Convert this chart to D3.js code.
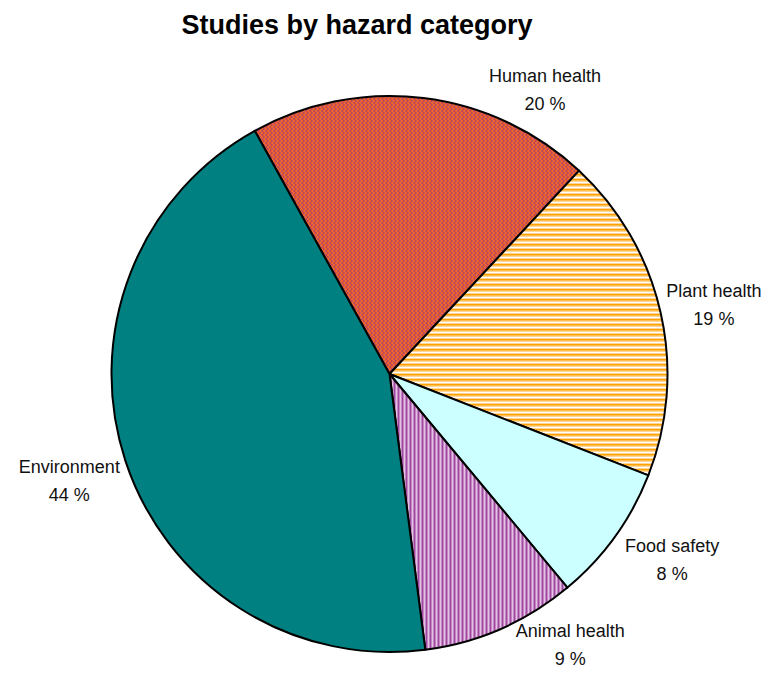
<!DOCTYPE html>
<html>
<head>
<meta charset="utf-8">
<script src="https://cdn.jsdelivr.net/npm/d3@7"></script>
<style>
  html, body { margin: 0; padding: 0; background: #fff; }
  svg { display: block; }
</style>
</head>
<body>
<svg id="chart" width="769" height="678"></svg>
<script>
// Hazard categories and their share of studies (%)
const categories = ["Human health", "Plant health", "Food safety", "Animal health", "Environment"];
const shares = [20, 19, 8, 9, 44];
const fills = ["url(#checkRed)", "url(#stripeOrange)", "#ccffff", "url(#stripePurple)", "#008080"];

const width = 769, height = 678;
const cx = 389.5, cy = 374, radius = 278;

const svg = d3.select("#chart");
const defs = svg.append("defs");

// Fine red / purple check
const check = defs.append("pattern").attr("id", "checkRed")
  .attr("patternUnits", "userSpaceOnUse").attr("width", 4).attr("height", 4);
check.append("rect").attr("width", 4).attr("height", 4).attr("fill", "#f26a2a");
check.append("rect").attr("x", 0).attr("y", 0).attr("width", 1).attr("height", 2).attr("fill", "#9a3a8a");
check.append("rect").attr("x", 2).attr("y", 2).attr("width", 1).attr("height", 2).attr("fill", "#9a3a8a");
check.append("rect").attr("x", 1).attr("y", 0).attr("width", 1).attr("height", 4).attr("fill", "#e0502a");

// Horizontal orange stripes
const hs = defs.append("pattern").attr("id", "stripeOrange")
  .attr("patternUnits", "userSpaceOnUse").attr("width", 8).attr("height", 5);
hs.append("rect").attr("width", 8).attr("height", 5).attr("fill", "#ffd699");
hs.append("rect").attr("y", 0).attr("width", 8).attr("height", 1).attr("fill", "#ffa200");
hs.append("rect").attr("y", 1).attr("width", 8).attr("height", 1).attr("fill", "#ffbe4d");
hs.append("rect").attr("y", 3).attr("width", 8).attr("height", 1).attr("fill", "#ffffff");

// Vertical purple stripes
const vs = defs.append("pattern").attr("id", "stripePurple")
  .attr("patternUnits", "userSpaceOnUse").attr("width", 4).attr("height", 8);
vs.append("rect").attr("width", 4).attr("height", 8).attr("fill", "#d9a8d9");
vs.append("rect").attr("x", 0).attr("width", 1).attr("height", 8).attr("fill", "#8e2f8e");
vs.append("rect").attr("x", 1).attr("width", 1).attr("height", 8).attr("fill", "#b060b0");
vs.append("rect").attr("x", 3).attr("width", 1).attr("height", 8).attr("fill", "#f0dcf0");

const data = categories.map((c, i) => ({ category: c, value: shares[i], fill: fills[i] }));

const startAngle = -29 * Math.PI / 180;
const pie = d3.pie().sort(null).value(d => d.value)
  .startAngle(startAngle).endAngle(startAngle + 2 * Math.PI);
const arcs = pie(data);

const arc = d3.arc().innerRadius(0).outerRadius(radius);

const g = svg.append("g").attr("transform", `translate(${cx},${cy})`);

g.selectAll("path.slice")
  .data(arcs)
  .join("path")
  .attr("class", "slice")
  .attr("d", arc)
  .attr("fill", d => d.data.fill)
  .attr("stroke", "#000")
  .attr("stroke-width", 2)
  .attr("stroke-linejoin", "round");

// Labels sit outside the rim along each slice's mid angle
const labelNudge = {
  "Human health": { da: 21.5, r: 326 },
  "Plant health": { da: 0.5, r: 332 },
  "Food safety": { da: -2.8, r: 337 },
  "Animal health": { da: -10.3, r: 324 },
  "Environment": { da: 0, r: 337 }
};

const labels = g.selectAll("g.label")
  .data(arcs)
  .join("g")
  .attr("class", "label")
  .attr("transform", d => {
    const n = labelNudge[d.data.category];
    const a = (d.startAngle + d.endAngle) / 2 + n.da * Math.PI / 180;
    return `translate(${Math.sin(a) * n.r},${-Math.cos(a) * n.r})`;
  })
  .style("font-family", "'Liberation Sans', Arial, sans-serif")
  .style("font-size", "18px")
  .attr("fill", "#111")
  .attr("text-anchor", "middle");

labels.append("text").attr("y", -6).text(d => d.data.category);
labels.append("text").attr("y", 22).text(d => `${d.data.value} %`);

svg.append("text")
  .attr("x", 357).attr("y", 34)
  .attr("text-anchor", "middle")
  .style("font-family", "'Liberation Sans', Arial, sans-serif")
  .style("font-weight", "bold")
  .style("font-size", "27px")
  .attr("fill", "#000")
  .text("Studies by hazard category");
</script>
</body>
</html>
